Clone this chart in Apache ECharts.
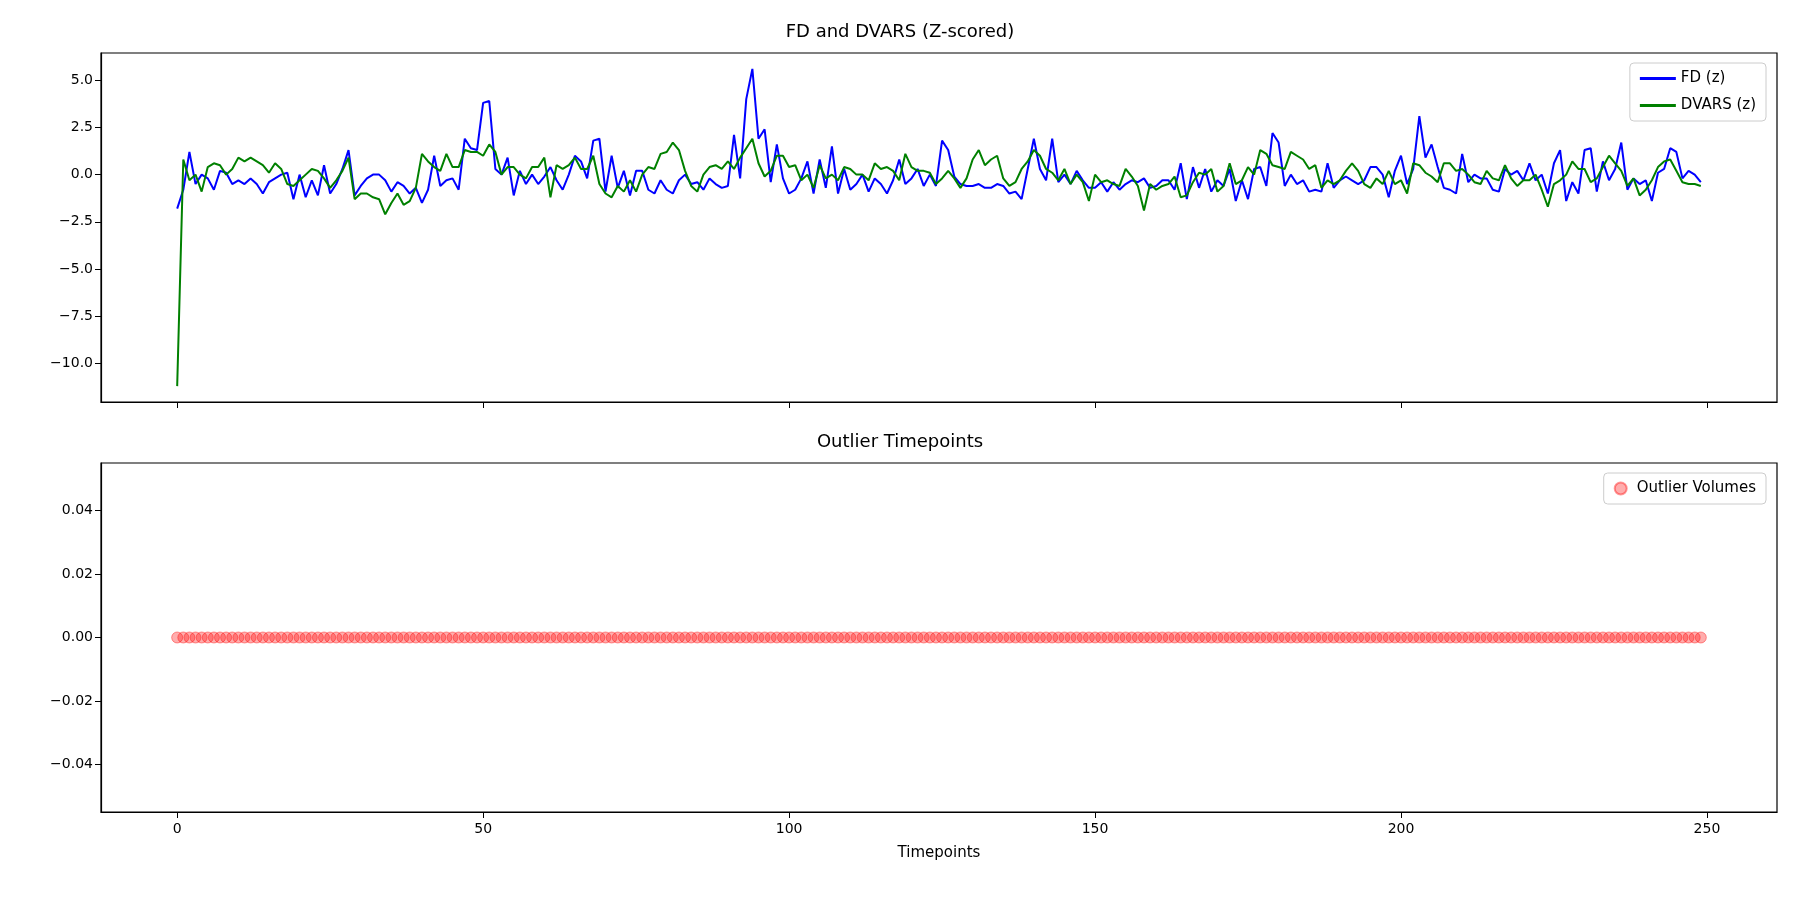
<!DOCTYPE html>
<html><head><meta charset="utf-8">
<script src="https://cdn.jsdelivr.net/npm/echarts@6/dist/echarts.min.js"></script>
<style>html,body{margin:0;padding:0;background:#fff}#c{width:1800px;height:900px}</style>
</head><body><div id="c"></div>
<script>
const fdZ = [
-1.8,-0.8,1.2,-0.5,0.0,-0.2,-0.8,0.2,0.1,-0.5,
-0.3,-0.5,-0.2,-0.5,-1.0,-0.4,-0.2,0.0,0.1,-1.3,
0.0,-1.2,-0.3,-1.1,0.5,-1.0,-0.5,0.3,1.3,-1.1,
-0.6,-0.2,0.0,0.0,-0.3,-0.9,-0.4,-0.6,-1.0,-0.7,
-1.5,-0.8,1.0,-0.6,-0.3,-0.2,-0.8,1.9,1.4,1.3,
3.8,3.9,0.3,0.0,0.9,-1.1,0.2,-0.5,0.0,-0.5,
-0.1,0.4,-0.3,-0.8,0.0,1.0,0.7,-0.2,1.8,1.9,
-0.9,1.0,-0.7,0.2,-1.1,0.2,0.2,-0.8,-1.0,-0.3,
-0.8,-1.0,-0.3,0.0,-0.5,-0.4,-0.8,-0.2,-0.5,-0.7,
-0.6,2.1,-0.2,4.0,5.6,1.9,2.4,-0.4,1.6,-0.2,
-1.0,-0.8,-0.2,0.7,-1.0,0.8,-0.7,1.5,-1.0,0.3,
-0.8,-0.5,0.0,-0.9,-0.2,-0.5,-1.0,-0.3,0.8,-0.5,
-0.2,0.3,-0.6,0.0,-0.6,1.8,1.3,-0.1,-0.5,-0.6,
-0.6,-0.5,-0.7,-0.7,-0.5,-0.6,-1.0,-0.9,-1.3,0.3,
1.9,0.3,-0.3,1.9,-0.4,0.0,-0.5,0.2,-0.3,-0.7,
-0.7,-0.4,-0.9,-0.4,-0.8,-0.5,-0.3,-0.4,-0.2,-0.7,
-0.6,-0.3,-0.3,-0.8,0.6,-1.3,0.4,-0.7,0.3,-0.9,
-0.3,-0.6,0.3,-1.4,-0.3,-1.3,0.3,0.4,-0.6,2.2,
1.7,-0.6,0.0,-0.5,-0.3,-0.9,-0.8,-0.9,0.6,-0.7,
-0.3,-0.1,-0.3,-0.5,-0.3,0.4,0.4,0.0,-1.2,0.2,
1.0,-0.5,0.3,3.1,0.9,1.6,0.4,-0.7,-0.8,-1.0,
1.1,-0.4,0.0,-0.2,-0.2,-0.8,-0.9,0.3,0.0,0.2,
-0.3,0.6,-0.3,0.0,-1.0,0.6,1.3,-1.4,-0.4,-1.0,
1.3,1.4,-0.9,0.7,-0.3,0.3,1.7,-0.8,-0.2,-0.5,
-0.3,-1.4,0.1,0.3,1.4,1.2,-0.2,0.2,0.0,-0.4];
const dvarsZ = [
-11.2,0.8,-0.3,0.0,-0.9,0.4,0.6,0.5,0.0,0.3,
0.9,0.7,0.9,0.7,0.5,0.1,0.6,0.3,-0.5,-0.6,
-0.3,0.0,0.3,0.2,-0.2,-0.7,-0.3,0.2,0.9,-1.3,
-1.0,-1.0,-1.2,-1.3,-2.1,-1.5,-1.0,-1.6,-1.4,-0.7,
1.1,0.7,0.4,0.2,1.1,0.4,0.4,1.3,1.2,1.2,
1.0,1.6,1.2,0.0,0.4,0.4,0.0,-0.2,0.4,0.4,
0.9,-1.2,0.5,0.3,0.5,0.9,0.3,0.3,1.0,-0.5,
-1.0,-1.2,-0.6,-0.9,-0.3,-0.9,0.0,0.4,0.3,1.1,
1.2,1.7,1.3,0.2,-0.6,-0.9,0.0,0.4,0.5,0.3,
0.7,0.3,0.9,1.4,1.9,0.6,-0.1,0.2,1.0,1.0,
0.4,0.5,-0.3,0.0,-0.7,0.5,-0.2,0.0,-0.3,0.4,
0.3,0.0,0.0,-0.3,0.6,0.3,0.4,0.2,-0.3,1.1,
0.4,0.2,0.2,0.1,-0.5,-0.2,0.2,-0.2,-0.7,-0.2,
0.8,1.3,0.5,0.8,1.0,-0.2,-0.6,-0.4,0.3,0.7,
1.3,1.0,0.3,0.1,-0.3,0.3,-0.5,0.0,-0.4,-1.4,
0.0,-0.4,-0.3,-0.5,-0.6,0.3,-0.1,-0.6,-1.9,-0.5,
-0.8,-0.6,-0.5,-0.1,-1.2,-1.1,-0.4,0.1,0.0,0.3,
-0.9,-0.6,0.6,-0.5,-0.3,0.4,0.0,1.3,1.1,0.5,
0.4,0.3,1.2,1.0,0.8,0.3,0.5,-0.7,-0.3,-0.5,
-0.3,0.2,0.6,0.2,-0.5,-0.7,-0.2,-0.5,0.2,-0.5,
-0.3,-1.0,0.6,0.5,0.1,-0.1,-0.4,0.6,0.6,0.2,
0.3,0.0,-0.4,-0.5,0.2,-0.2,-0.3,0.5,-0.2,-0.6,
-0.3,-0.3,0.0,-0.8,-1.7,-0.5,-0.3,0.0,0.7,0.3,
0.3,-0.4,-0.2,0.4,1.0,0.6,0.2,-0.6,-0.2,-1.1,
-0.8,-0.3,0.4,0.7,0.8,0.2,-0.4,-0.5,-0.5,-0.6];
const outlierVals = [
0,0,0,0,0,0,0,0,0,0,0,0,0,0,0,0,0,0,0,0,0,0,0,0,0,0,0,0,0,0,0,0,0,0,0,0,0,0,0,0,0,0,0,0,0,0,0,0,0,0,
0,0,0,0,0,0,0,0,0,0,0,0,0,0,0,0,0,0,0,0,0,0,0,0,0,0,0,0,0,0,0,0,0,0,0,0,0,0,0,0,0,0,0,0,0,0,0,0,0,0,
0,0,0,0,0,0,0,0,0,0,0,0,0,0,0,0,0,0,0,0,0,0,0,0,0,0,0,0,0,0,0,0,0,0,0,0,0,0,0,0,0,0,0,0,0,0,0,0,0,0,
0,0,0,0,0,0,0,0,0,0,0,0,0,0,0,0,0,0,0,0,0,0,0,0,0,0,0,0,0,0,0,0,0,0,0,0,0,0,0,0,0,0,0,0,0,0,0,0,0,0,
0,0,0,0,0,0,0,0,0,0,0,0,0,0,0,0,0,0,0,0,0,0,0,0,0,0,0,0,0,0,0,0,0,0,0,0,0,0,0,0,0,0,0,0,0,0,0,0,0,0];
const xTicks = [0,50,100,150,200,250];
const yTicksTop = [-10,-7.5,-5,-2.5,0,2.5,5];
const yTicksBot = [-0.04,-0.02,0,0.02,0.04];

const F = 'DejaVu Sans';
const minus = s => s.replace('-', '\u2212');
const pair = a => a.map((v,i)=>[i,v]);
const xAxisBase = (idx, showLabel) => ({
  type:'value', gridIndex:idx, min:-12.45, max:261.45,
  axisLine:{show:true, onZero:false, lineStyle:{color:'#000', width:1.2}}, splitLine:{show:false},
  axisTick:{show:true, length:6, customValues:xTicks, lineStyle:{color:'#000'}},
  axisLabel:{show:showLabel, customValues:xTicks, color:'#000', fontFamily:F, fontSize:14, margin:10},
  name: showLabel ? 'Timepoints' : '', nameLocation:'middle', nameGap:34,
  nameTextStyle:{color:'#000', fontFamily:F, fontSize:15}
});
const yAxisBase = (idx, mn, mx, ticks, dec) => ({
  type:'value', gridIndex:idx, min:mn, max:mx,
  axisLine:{show:true, onZero:false, lineStyle:{color:'#000', width:1.2}}, splitLine:{show:false},
  axisTick:{show:true, length:6, customValues:ticks, lineStyle:{color:'#000'}},
  axisLabel:{customValues:ticks, color:'#000', fontFamily:F, fontSize:14, formatter:v=>minus(v.toFixed(dec))}
});
const chart = echarts.init(document.getElementById('c'));
chart.setOption({
  animation:false,
  title:[
    {text:'FD and DVARS (Z-scored)', left:'center', top:18, textStyle:{fontFamily:F, fontSize:18, fontWeight:'normal', color:'#000'}},
    {text:'Outlier Timepoints', left:'center', top:428, textStyle:{fontFamily:F, fontSize:18, fontWeight:'normal', color:'#000'}}
  ],
  grid:[
    {left:101, right:23, top:53, height:349, show:true, borderColor:'#000', borderWidth:1.2},
    {left:101, right:23, top:463, height:349, show:true, borderColor:'#000', borderWidth:1.2}
  ],
  xAxis:[xAxisBase(0,false), xAxisBase(1,true)],
  yAxis:[yAxisBase(0,-12.04,6.44,yTicksTop,1), yAxisBase(1,-0.055,0.055,yTicksBot,2)],
  legend:[
    {data:['FD (z)','DVARS (z)'], orient:'vertical', right:34, top:63, itemWidth:36, itemHeight:3, itemGap:12,
     icon:'rect', textStyle:{fontFamily:F, fontSize:15, color:'#000'}, backgroundColor:'#fff',
     borderColor:'#ccc', borderWidth:1, borderRadius:4, padding:[8,10,8,10]},
    {data:['Outlier Volumes'], orient:'vertical', right:34, top:473, itemWidth:22, itemHeight:12,
     textStyle:{fontFamily:F, fontSize:15, color:'#000'}, backgroundColor:'#fff',
     borderColor:'#ccc', borderWidth:1, borderRadius:4, padding:[8,10,8,10]}
  ],
  series:[
    {name:'FD (z)', type:'line', xAxisIndex:0, yAxisIndex:0, data:pair(fdZ), showSymbol:false, color:'#0000ff', lineStyle:{width:2}},
    {name:'DVARS (z)', type:'line', xAxisIndex:0, yAxisIndex:0, data:pair(dvarsZ), showSymbol:false, color:'#008000', lineStyle:{width:2}},
    {name:'Outlier Volumes', type:'scatter', xAxisIndex:1, yAxisIndex:1, data:pair(outlierVals), symbolSize:11,
     itemStyle:{color:'rgba(255,0,0,0.4)', borderColor:'rgba(255,0,0,0.5)', borderWidth:1}, legendIcon:'circle'}
  ]
});
</script></body></html>
